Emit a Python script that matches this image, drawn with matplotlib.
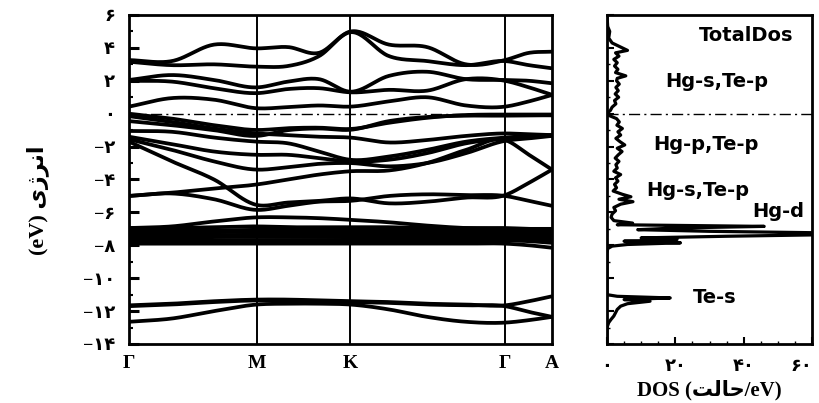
import numpy as np
import matplotlib
matplotlib.use("Agg")
import matplotlib.pyplot as plt
from matplotlib.ticker import MultipleLocator, FixedLocator

# ---------------- data ----------------
k_nodes = [0, 43, 85, 128, 159, 190, 221, 260, 298, 337, 376, 400, 423]
k_ticks = [0, 128, 221, 376, 423]
k_labels = ["Γ", "M", "K", "Γ", "A"]

# conduction bands (eV) at k_nodes
c1 = [3.26, 3.2, 4.2, 3.97, 4.05, 3.7, 4.99, 4.2, 4.05, 3.0, 3.26, 3.7, 3.77]
c2 = [3.16, 2.95, 3.0, 2.86, 2.9, 3.5, 4.95, 3.5, 3.2, 2.95, 3.2, 2.95, 2.76]
c3 = [2.05, 2.35, 2.05, 1.6, 1.95, 2.1, 1.34, 2.3, 2.55, 2.1, 2.05, 2.0, 1.85]
c4 = [2.0, 1.95, 1.55, 1.25, 1.5, 1.55, 1.3, 1.45, 1.4, 2.1, 2.0, 1.6, 1.15]
c5 = [0.43, 0.95, 0.85, 0.33, 0.4, 0.5, 0.43, 0.75, 1.0, 0.5, 0.43, 0.75, 1.14]
# valence bands
v1 = [0.0, -0.3, -0.7, -0.99, -0.88, -0.85, -0.93, -0.55, -0.25, -0.08, -0.05, -0.05, -0.05]
v1b = [-0.45, -0.7, -1.0, -1.35, -1.0, -0.9, -0.98, -0.45, -0.2, -0.12, -0.12, -0.1, -0.1]
v2 = [-0.15, -0.5, -0.9, -1.2, -1.3, -1.4, -1.45, -1.75, -1.6, -1.35, -1.2, -1.25, -1.3]
v3 = [-1.05, -1.1, -1.45, -1.7, -1.8, -2.3, -2.8, -2.6, -2.2, -1.7, -1.45, -1.35, -1.3]
v4 = [-1.4, -1.85, -2.3, -2.5, -2.5, -2.7, -2.9, -2.8, -2.4, -1.8, -1.5, -1.4, -1.35]
v5 = [-1.55, -2.2, -2.9, -3.4, -3.25, -3.05, -3.0, -3.2, -3.0, -2.4, -1.65, -1.5, -1.35]
v6 = [-1.7, -2.9, -4.0, -5.55, -5.4, -5.3, -5.15, -5.45, -5.35, -5.1, -4.95, -4.2, -3.4]
v7 = [-5.0, -4.8, -4.55, -4.3, -4.0, -3.7, -3.5, -3.45, -3.0, -2.2, -1.6, -2.5, -3.4]
v8 = [-5.0, -4.85, -5.2, -5.85, -5.6, -5.35, -5.3, -5.0, -4.9, -4.95, -5.0, -5.3, -5.6]
v9 = [-6.95, -6.85, -6.55, -6.3, -6.3, -6.35, -6.45, -6.6, -6.8, -6.95, -7.0, -7.0, -7.0]
# Hg-d bands
d1 = [-6.95, -6.95, -6.9, -6.85, -6.9, -6.9, -6.9, -6.9, -6.95, -6.95, -6.95, -7.0, -7.05]
d2 = [-7.1, -7.1, -7.1, -7.05, -7.05, -7.05, -7.05, -7.05, -7.1, -7.1, -7.1, -7.15, -7.2]
d3 = [-7.25, -7.25, -7.2, -7.2, -7.2, -7.2, -7.2, -7.2, -7.25, -7.25, -7.25, -7.3, -7.35]
d4 = [-7.4, -7.4, -7.4, -7.35, -7.35, -7.35, -7.35, -7.35, -7.4, -7.4, -7.4, -7.45, -7.5]
d5 = [-7.55, -7.55, -7.5, -7.5, -7.5, -7.5, -7.5, -7.5, -7.55, -7.55, -7.55, -7.6, -7.65]
d6 = [-7.7, -7.7, -7.7, -7.7, -7.7, -7.7, -7.7, -7.7, -7.7, -7.7, -7.7, -7.75, -7.85]
d7 = [-7.9, -7.9, -7.9, -7.9, -7.9, -7.9, -7.9, -7.9, -7.9, -7.9, -7.9, -8.0, -8.15]
# Te-s bands
s1 = [-11.65, -11.55, -11.4, -11.3, -11.3, -11.35, -11.4, -11.45, -11.55, -11.6, -11.65, -11.4, -11.1]
s2 = [-12.65, -12.45, -12.0, -11.6, -11.55, -11.55, -11.6, -11.9, -12.35, -12.65, -12.7, -12.55, -12.35]
s3 = [-11.7, -11.6, -11.45, -11.35, -11.35, -11.4, -11.45, -11.5, -11.6, -11.65, -11.7, -12.05, -12.35]

bands = [c1, c2, c3, c4, c5, v1, v1b, v2, v3, v4, v5, v6, v7, v8, v9,
         d1, d2, d3, d4, d5, d6, d7, s1, s2, s3]

# total DOS (states/eV) vs energy (eV)
dos_energy = [6.0, 5.3, 5.0, 4.6, 4.3, 4.0, 3.85, 3.7, 3.5, 3.3, 3.1, 2.9, 2.7, 2.5, 2.3,
              2.15, 2.0, 1.8, 1.6, 1.4, 1.2, 1.0, 0.8, 0.6, 0.4, 0.2, 0.05, -0.1, -0.3,
              -0.5, -0.7, -0.9, -1.1, -1.3, -1.5, -1.7, -1.9, -2.1, -2.3, -2.5, -2.7,
              -2.9, -3.1, -3.3, -3.5, -3.7, -3.9, -4.1, -4.3, -4.5, -4.7, -4.9, -5.05,
              -5.2, -5.35, -5.5, -5.7, -5.9, -6.1, -6.3, -6.5, -6.65, -6.75, -6.85,
              -6.95, -7.05, -7.15, -7.25, -7.35, -7.45, -7.55, -7.65, -7.75, -7.85,
              -7.95, -8.05, -8.2, -8.5, -11.0, -11.1, -11.2, -11.3, -11.4, -11.55,
              -11.7, -11.9, -12.1, -12.3, -12.5, -12.7, -13.0, -14.0]
dos_total = [0.0, 0.2, 0.8, 0.5, 1.5, 4.5, 6.0, 2.5, 3.5, 2.0, 3.0, 2.2, 3.2, 2.5, 5.5,
             3.0, 2.8, 3.6, 2.6, 3.3, 2.4, 3.4, 2.2, 2.6, 1.5, 1.0, 0.2, 0.5, 2.8,
             3.6, 2.9, 4.5, 3.2, 4.0, 2.6, 3.8, 5.2, 3.0, 4.4, 3.3, 2.4,
             3.5, 2.6, 3.0, 2.0, 4.0, 2.5, 3.2, 2.2, 2.8, 1.8, 4.5, 7.0,
             3.5, 7.6, 4.0, 2.0, 2.5, 1.5, 1.2, 2.0, 7.5, 3.0, 46.0,
             20.0, 9.0, 30.0, 66.0, 66.0, 35.0, 10.0, 20.5, 5.0, 21.5,
             6.0, 1.5, 0.2, 0.0, 0.0, 3.0, 18.5, 5.0, 12.6, 6.0,
             4.0, 3.0, 2.5, 2.0, 1.2, 0.5, 0.0, 0.0]

e_ticks = [6, 4, 2, 0, -2, -4, -6, -8, -10, -12, -14]
dos_ticks = [0, 20, 40, 60]

dos_labels = ["TotalDos", "Hg-s,Te-p", "Hg-p,Te-p", "Hg-s,Te-p", "Hg-d", "Te-s"]
dos_label_x = [40.7, 32.2, 29.0, 26.6, 50.1, 31.6]
dos_label_e = [4.78, 1.93, -1.9, -4.64, -5.96, -11.2]

# ---------------- helpers ----------------
FA = str.maketrans("0123456789", "۰۱۲۳۴۵۶۷۸۹")


def fa(v):
    s = str(abs(int(v))).translate(FA)
    return ("\u2212" + s) if v < 0 else s


def smooth(x, y, n=24):
    x = np.asarray(x, float)
    y = np.asarray(y, float)
    h = np.diff(x)
    d = np.diff(y) / h
    m = np.zeros_like(y)
    m[0], m[-1] = d[0], d[-1]
    for i in range(1, len(y) - 1):
        m[i] = (h[i] * d[i - 1] + h[i - 1] * d[i]) / (h[i - 1] + h[i])
    xs, ys = [], []
    for i in range(len(h)):
        t = np.linspace(0, 1, n, endpoint=(i == len(h) - 1))
        h00 = 2 * t**3 - 3 * t**2 + 1
        h10 = t**3 - 2 * t**2 + t
        h01 = -2 * t**3 + 3 * t**2
        h11 = t**3 - t**2
        xs.append(x[i] + t * h[i])
        ys.append(h00 * y[i] + h10 * h[i] * m[i] + h01 * y[i + 1] + h11 * h[i] * m[i + 1])
    return np.concatenate(xs), np.concatenate(ys)


SERIF = ["Liberation Serif", "DejaVu Sans"]

# ---------------- figure ----------------
fig = plt.figure(figsize=(8.19, 4.03), dpi=100)
ax = fig.add_axes([129 / 819, 1 - 344 / 403, 423 / 819, 329 / 403])
ax2 = fig.add_axes([607 / 819, 1 - 344 / 403, 205 / 819, 329 / 403])

for b in bands:
    xs, ys = smooth(k_nodes, b)
    ax.plot(xs, ys, color="black", lw=2.7, solid_capstyle="butt")

for kt in k_ticks[1:-1]:
    ax.axvline(kt, color="black", lw=1.4)
ax.axhline(0, color="black", lw=1.0, ls="-.", dashes=(8, 3, 1.5, 3))

ax.set_xlim(k_ticks[0], k_ticks[-1])
ax.set_ylim(-14, 6)
ax.set_xticks(k_ticks)
ax.set_xticklabels(k_labels, family=SERIF, fontweight="bold", fontsize=14)
ax.tick_params(axis="x", length=0, pad=8)
ax.yaxis.set_major_locator(FixedLocator(e_ticks))
ax.set_yticklabels([fa(v) for v in e_ticks], family=SERIF, fontweight="bold", fontsize=13)
ax.yaxis.set_minor_locator(MultipleLocator(1))
ax.tick_params(axis="y", which="major", direction="in", length=7, width=2.2, pad=10)
ax.tick_params(axis="y", which="minor", direction="in", length=3, width=1.5)
for sp in ax.spines.values():
    sp.set_linewidth(2.0)

ylab = "(eV) " + "\uFBFC\uFB8A\uFEAE\uFEE7\uFE8D"
fig.text(38 / 819, 1 - 200 / 403, ylab, rotation=90, ha="center", va="center",
         family=SERIF, fontweight="bold", fontsize=16)

# DOS panel
ax2.plot(dos_total, dos_energy, color="black", lw=2.3)
ax2.axhline(0, color="black", lw=1.0, ls="-.", dashes=(8, 3, 1.5, 3))
ax2.set_xlim(0, 60)
ax2.set_ylim(-14, 6)
ax2.xaxis.set_major_locator(FixedLocator(dos_ticks))
ax2.set_xticklabels([fa(v) for v in dos_ticks], family=SERIF, fontweight="bold", fontsize=13)
ax2.xaxis.set_minor_locator(MultipleLocator(5))
ax2.yaxis.set_major_locator(FixedLocator(e_ticks))
ax2.yaxis.set_minor_locator(MultipleLocator(1))
ax2.set_yticklabels([])
ax2.tick_params(axis="both", which="major", direction="in", length=5, width=1.5)
ax2.tick_params(axis="both", which="minor", direction="in", length=2.5, width=1.0)
ax2.tick_params(axis="x", pad=10)
ax2.get_xticklabels()[-1].set_horizontalalignment("right")
for sp in ax2.spines.values():
    sp.set_linewidth(2.0)

xlab = "DOS (" + "\uFE96\uFEDF\uFE8E\uFEA3" + "/eV)"
ax2.set_xlabel(xlab, family=SERIF, fontweight="bold", fontsize=15, labelpad=4)

for t, x, e in zip(dos_labels, dos_label_x, dos_label_e):
    ax2.text(x, e, t, ha="center", va="center", fontsize=14, fontweight="bold",
             family=["DejaVu Sans"])

fig.savefig("out.png", dpi=100)
